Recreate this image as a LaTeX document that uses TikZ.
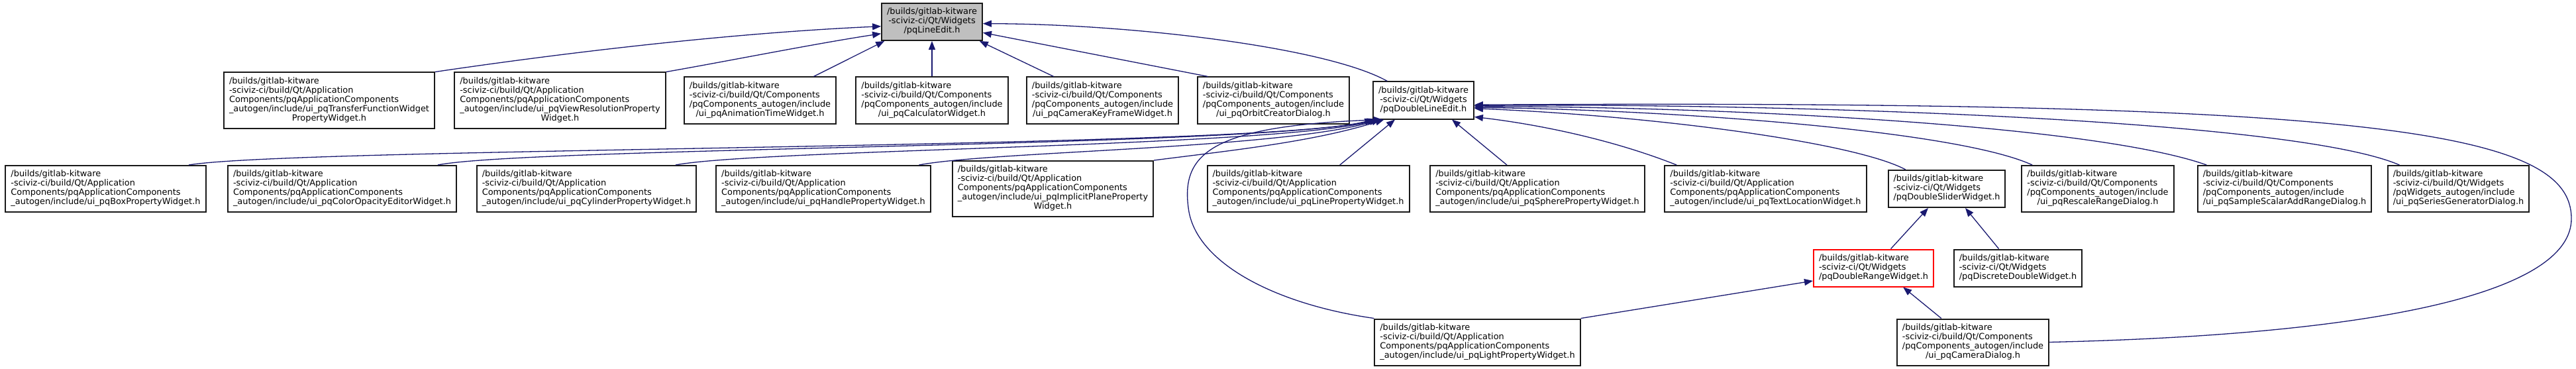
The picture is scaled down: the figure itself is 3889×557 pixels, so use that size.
\documentclass[tikz,border=0pt]{standalone}
\usepackage{fontspec}
\usepackage{tikz}
\usepackage{xcolor}
\usetikzlibrary{arrows.meta}
\setmainfont{DejaVu Sans}
\definecolor{edgeblue}{RGB}{25, 25, 112}
\definecolor{rootgray}{RGB}{191, 191, 191}
\newcommand{\filefont}{\fontsize{6.45}{7}\selectfont}
\newcommand{\hdrfile}[2]{\begin{tabular}{@{}l@{}}#1\\\multicolumn{1}{@{}c@{}}{#2}\end{tabular}}
\newcommand{\hdrmid}[1]{\begin{tabular}{@{}c@{}}#1\end{tabular}}

\begin{document}
\begin{tikzpicture}[x=0.5pt, y=-0.5pt]
    \tikzstyle{file} = [rectangle, draw=black!90, fill=white, line width=1pt,
                        inner xsep=4pt, inner ysep=3.5pt, font=\filefont]
    \tikzstyle{root} = [file, fill=rootgray]
    \tikzstyle{hit}  = [file, draw=red]
    \tikzstyle{dep}  = [draw=edgeblue, line width=0.65pt,
                        -{Triangle[length=6.5pt, width=5pt]}]

    \useasboundingbox (0,0) rectangle (3889,557);

    %% Row 0: the header itself
    \node[root] at (1407,33) (p0)
      {\hdrmid{/builds/gitlab-kitware\\-sciviz-ci/Qt/Widgets\\/pqLineEdit.h}};

    %% Row 1: direct includers
    \node[file] at (497,151.5) (a1)
      {\hdrfile{/builds/gitlab-kitware\\-sciviz-ci/build/Qt/Application\\Components/pqApplicationComponents\\\_autogen/include/ui\_pqTransferFunctionWidget}{PropertyWidget.h}};
    \node[file] at (845.5,151.5) (a2)
      {\hdrfile{/builds/gitlab-kitware\\-sciviz-ci/build/Qt/Application\\Components/pqApplicationComponents\\\_autogen/include/ui\_pqViewResolutionProperty}{Widget.h}};
    \node[file] at (1147.5,151.5) (a3)
      {\hdrfile{/builds/gitlab-kitware\\-sciviz-ci/build/Qt/Components\\/pqComponents\_autogen/include}{/ui\_pqAnimationTimeWidget.h}};
    \node[file] at (1407,151.5) (a4)
      {\hdrfile{/builds/gitlab-kitware\\-sciviz-ci/build/Qt/Components\\/pqComponents\_autogen/include}{/ui\_pqCalculatorWidget.h}};
    \node[file] at (1664.5,151.5) (a5)
      {\hdrfile{/builds/gitlab-kitware\\-sciviz-ci/build/Qt/Components\\/pqComponents\_autogen/include}{/ui\_pqCameraKeyFrameWidget.h}};
    \node[file] at (1922.5,151.5) (a6)
      {\hdrfile{/builds/gitlab-kitware\\-sciviz-ci/build/Qt/Components\\/pqComponents\_autogen/include}{/ui\_pqOrbitCreatorDialog.h}};
    \node[file] at (2149,151.5) (dle)
      {\hdrmid{/builds/gitlab-kitware\\-sciviz-ci/Qt/Widgets\\/pqDoubleLineEdit.h}};

    %% Row 2: includers of pqDoubleLineEdit.h
    \node[file] at (159.5,285) (b1)
      {\hdrfile{/builds/gitlab-kitware\\-sciviz-ci/build/Qt/Application\\Components/pqApplicationComponents}{\_autogen/include/ui\_pqBoxPropertyWidget.h}};
    \node[file] at (516.5,285) (b2)
      {\hdrfile{/builds/gitlab-kitware\\-sciviz-ci/build/Qt/Application\\Components/pqApplicationComponents}{\_autogen/include/ui\_pqColorOpacityEditorWidget.h}};
    \node[file] at (885.5,285) (b3)
      {\hdrfile{/builds/gitlab-kitware\\-sciviz-ci/build/Qt/Application\\Components/pqApplicationComponents}{\_autogen/include/ui\_pqCylinderPropertyWidget.h}};
    \node[file] at (1243,285) (b4)
      {\hdrfile{/builds/gitlab-kitware\\-sciviz-ci/build/Qt/Application\\Components/pqApplicationComponents}{\_autogen/include/ui\_pqHandlePropertyWidget.h}};
    \node[file] at (1589.5,285) (b5)
      {\hdrfile{/builds/gitlab-kitware\\-sciviz-ci/build/Qt/Application\\Components/pqApplicationComponents\\\_autogen/include/ui\_pqImplicitPlaneProperty}{Widget.h}};
    \node[file] at (1975,285) (b6)
      {\hdrfile{/builds/gitlab-kitware\\-sciviz-ci/build/Qt/Application\\Components/pqApplicationComponents}{\_autogen/include/ui\_pqLinePropertyWidget.h}};
    \node[file] at (2321,285) (b7)
      {\hdrfile{/builds/gitlab-kitware\\-sciviz-ci/build/Qt/Application\\Components/pqApplicationComponents}{\_autogen/include/ui\_pqSpherePropertyWidget.h}};
    \node[file] at (2665.5,285) (b8)
      {\hdrfile{/builds/gitlab-kitware\\-sciviz-ci/build/Qt/Application\\Components/pqApplicationComponents}{\_autogen/include/ui\_pqTextLocationWidget.h}};
    \node[file] at (2939,285) (b9)
      {\hdrfile{/builds/gitlab-kitware\\-sciviz-ci/Qt/Widgets}{/pqDoubleSliderWidget.h}};
    \node[file] at (3167,285) (b10)
      {\hdrfile{/builds/gitlab-kitware\\-sciviz-ci/build/Qt/Components\\/pqComponents\_autogen/include}{/ui\_pqRescaleRangeDialog.h}};
    \node[file] at (3449,285) (b11)
      {\hdrfile{/builds/gitlab-kitware\\-sciviz-ci/build/Qt/Components\\/pqComponents\_autogen/include}{/ui\_pqSampleScalarAddRangeDialog.h}};
    \node[file] at (3711.5,285) (b12)
      {\hdrfile{/builds/gitlab-kitware\\-sciviz-ci/build/Qt/Widgets\\/pqWidgets\_autogen/include}{/ui\_pqSeriesGeneratorDialog.h}};

    %% Row 3 and row 4
    \node[hit]  at (2828.5,404.5) (rng)
      {\hdrfile{/builds/gitlab-kitware\\-sciviz-ci/Qt/Widgets}{/pqDoubleRangeWidget.h}};
    \node[file] at (3046.5,404.5) (disc)
      {\hdrfile{/builds/gitlab-kitware\\-sciviz-ci/Qt/Widgets}{/pqDiscreteDoubleWidget.h}};
    \node[file] at (2230.5,516.5) (light)
      {\hdrfile{/builds/gitlab-kitware\\-sciviz-ci/build/Qt/Application\\Components/pqApplicationComponents}{\_autogen/include/ui\_pqLightPropertyWidget.h}};
    \node[file] at (2978.5,516.5) (cam)
      {\hdrfile{/builds/gitlab-kitware\\-sciviz-ci/build/Qt/Components\\/pqComponents\_autogen/include}{/ui\_pqCameraDialog.h}};

    %% ── Row 1 -> pqLineEdit.h ──────────────────────────────────────────
    \draw[dep] (a1.north east) .. controls (850,80) and (1100,50) .. (p0.185);
    \draw[dep] (a2.north east) .. controls (1100,92) and (1230,66) .. (p0.193);
    \draw[dep] (a3.24) -- (p0.202);
    \draw[dep] (a4.north) -- (p0.south);
    \draw[dep] (a5.154) -- (p0.-22);
    \draw[dep] (a6.160) -- (p0.-12);
    \draw[dep] (dle.152) .. controls (2000,70) and (1700,36) .. (p0.-2);

    %% ── Row 2 -> pqDoubleLineEdit.h (left side) ───────────────────────
    \draw[dep] (b1.16)  .. controls (450,222) and (1900,225) .. (dle.201);
    \draw[dep] (b2.14)  .. controls (800,222) and (1900,222) .. (dle.202);
    \draw[dep] (b3.15)  .. controls (1150,225) and (1920,222) .. (dle.203);
    \draw[dep] (b4.14)  .. controls (1500,228) and (1930,225) .. (dle.204);
    \draw[dep] (b5.north east) .. controls (1850,228) and (1980,215) .. (dle.206);
    \draw[dep] (light.north west) .. controls (1930,460) and (1810,400) .. (1795,320)
                                  .. controls (1780,230) and (1830,190) .. (dle.205);
    \draw[dep] (b6.37)  -- (dle.214);
    \draw[dep] (b7.142) -- (dle.-34);

    %% ── Row 2 -> pqDoubleLineEdit.h (right side) ──────────────────────
    \draw[dep] (b8.165)  .. controls (2420,205) and (2300,185) .. (dle.-18);
    \draw[dep] (b9.155)  .. controls (2800,215) and (2500,175) .. (dle.-9);
    \draw[dep] (b10.160) .. controls (2950,195) and (2500,165) .. (dle.-8);
    \draw[dep] (b11.163) .. controls (3150,185) and (2550,160) .. (dle.-7);
    \draw[dep] (b12.158) .. controls (3450,175) and (2600,155) .. (dle.-6);
    \draw[dep] (cam.east) .. controls (3600,505) and (3882,440) .. (3882,330)
                          .. controls (3882,200) and (3600,150) .. (dle.-5);

    %% ── Lower rows ────────────────────────────────────────────────────
    \draw[dep] (rng.48)   -- (b9.226);
    \draw[dep] (disc.135) -- (b9.-46);
    \draw[dep] (light.north east) -- (rng.192);
    \draw[dep] (cam.143)  -- (rng.-33);
  \end{tikzpicture}
\end{document}
